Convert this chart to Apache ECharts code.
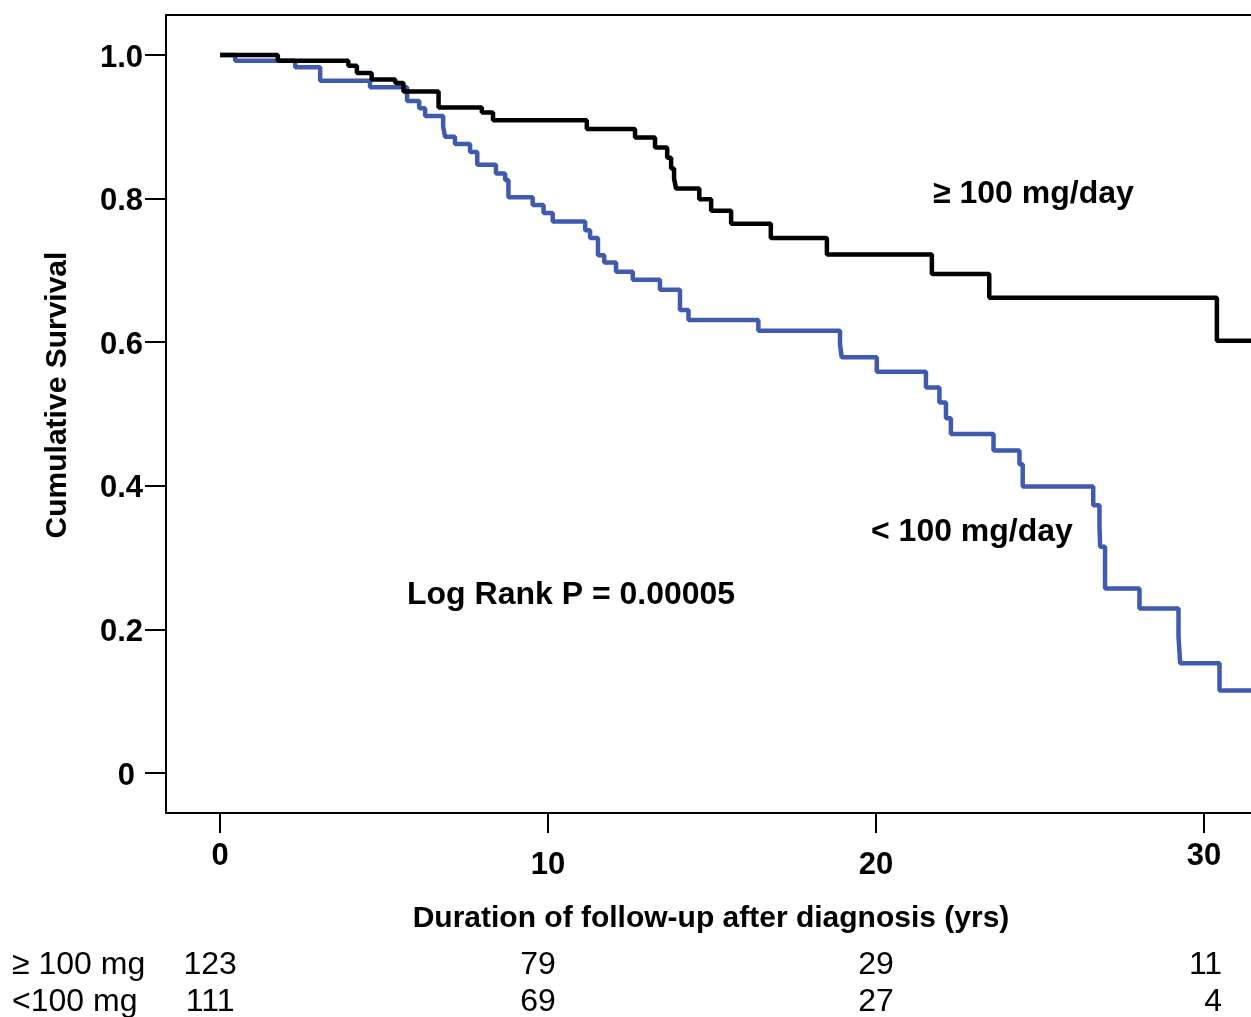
<!DOCTYPE html>
<html>
<head>
<meta charset="utf-8">
<script src="https://cdn.jsdelivr.net/npm/echarts@6/dist/echarts.min.js"></script>
<style>
  html, body { margin: 0; padding: 0; background: #fff; }
  #chart { width: 1251px; height: 1017px; }
</style>
</head>
<body>
<div id="chart"></div>
<script>
// Kaplan-Meier steps (years, cumulative survival)
const highTimes = [0, 1.76, 3.91, 4.17, 4.62, 5.34, 5.59, 6.66, 7.98, 8.32, 11.18, 12.65, 13.26, 13.63, 13.75,
  13.84, 13.90, 14.61, 14.97, 15.58, 16.79, 18.50, 21.70, 23.45, 30.39, 32.05]
const highSurv = [1.0, 0.992, 0.985, 0.975, 0.966, 0.961, 0.949, 0.927, 0.920, 0.909, 0.897, 0.885, 0.871, 0.857, 0.842,
  0.828, 0.814, 0.799, 0.783, 0.765, 0.745, 0.722, 0.695, 0.662, 0.602, 0.602]

const lowTimes = [0, 0.46, 2.29, 3.05, 4.57, 5.70, 6.07, 6.25, 6.80, 6.86, 7.16, 7.62, 7.84, 8.41, 8.69,
  8.79, 9.53, 9.86, 10.14, 11.13, 11.28, 11.52, 11.71, 12.07, 12.58, 13.41, 14.02, 14.28, 16.41, 18.90,
  18.95, 20.02, 21.52, 21.93, 22.13, 22.28, 23.58, 24.37, 24.47, 26.62, 26.81, 26.83, 26.98, 28.03, 29.22,
  29.27, 30.47, 32.05]
const lowSurv = [1.0, 0.992, 0.983, 0.964, 0.955, 0.936, 0.926, 0.915, 0.900, 0.886, 0.876, 0.865, 0.847, 0.835, 0.826,
  0.802, 0.791, 0.780, 0.768, 0.756, 0.745, 0.721, 0.711, 0.698, 0.687, 0.673, 0.645, 0.631, 0.616, 0.597,
  0.579, 0.559, 0.537, 0.516, 0.494, 0.472, 0.449, 0.43, 0.399, 0.373, 0.344, 0.315, 0.257, 0.229, 0.19,
  0.153, 0.115, 0.115]

const xTicks = [0, 10, 20, 30]
const yTicks = [0, 0.2, 0.4, 0.6, 0.8, 1.0]
const yTickLabels = ['0', '0.2', '0.4', '0.6', '0.8', '1.0']

// numbers at risk
const riskTimes = [0, 10, 20, 30]
const riskHigh = [123, 79, 29, 11]
const riskLow = [111, 69, 27, 4]
const riskRowLabels = ['≥ 100 mg', '<100 mg']

const FONT = '"Liberation Sans", Arial, Helvetica, sans-serif'
const X_MIN = -1.65
const X_MAX = 31.43

const chart = echarts.init(document.getElementById('chart'))

const option = {
  animation: false,
  backgroundColor: '#fff',
  grid: {
    left: 166,
    top: 15,
    right: 0,
    bottom: 204,
    show: false
  },
  xAxis: [
    {
      type: 'value',
      min: X_MIN,
      max: X_MAX,
      splitLine: { show: false },
      axisLine: { show: true, onZero: false, lineStyle: { color: '#000', width: 2 } },
      axisTick: { show: true, length: 20, customValues: xTicks, lineStyle: { color: '#000', width: 2 } },
      axisLabel: {
        customValues: xTicks,
        margin: 28,
        color: '#000',
        fontFamily: FONT,
        fontWeight: 'bold',
        fontSize: 31,
        formatter: v => (v === 10 || v === 20) ? '{lo|' + v + '}' : String(v),
        rich: {
          lo: { fontFamily: FONT, fontWeight: 'bold', fontSize: 31, color: '#000', padding: [9, 0, 0, 0] }
        }
      }
    },
    {
      // top frame line only
      type: 'value',
      position: 'top',
      min: X_MIN,
      max: X_MAX,
      splitLine: { show: false },
      axisLine: { show: true, onZero: false, lineStyle: { color: '#000', width: 2 } },
      axisTick: { show: false },
      axisLabel: { show: false }
    }
  ],
  yAxis: {
    type: 'value',
    min: -0.0557,
    max: 1.0557,
    splitLine: { show: false },
    axisLine: { show: true, onZero: false, lineStyle: { color: '#000', width: 2 } },
    axisTick: { show: true, length: 21, customValues: yTicks, lineStyle: { color: '#000', width: 2 } },
    axisLabel: {
      customValues: yTicks,
      margin: 23,
      padding: [6, 0, 0, 0],
      color: '#000',
      fontFamily: FONT,
      fontWeight: 'bold',
      fontSize: 31,
      formatter: v => {
        const i = yTicks.findIndex(t => Math.abs(t - v) < 1e-6)
        const s = i >= 0 ? yTickLabels[i] : ''
        return v === 0 ? '{z|' + s + '}' : s
      },
      rich: {
        z: { fontFamily: FONT, fontWeight: 'bold', fontSize: 31, color: '#000', padding: [0, 8, 0, 0] }
      }
    }
  },
  series: [
    {
      name: '< 100 mg/day',
      type: 'line',
      step: 'end',
      showSymbol: false,
      lineStyle: { color: '#3f5aae', width: 4.5 },
      data: lowTimes.map((t, i) => [t, lowSurv[i]])
    },
    {
      name: '≥ 100 mg/day',
      type: 'line',
      step: 'end',
      showSymbol: false,
      lineStyle: { color: '#000', width: 4.5 },
      data: highTimes.map((t, i) => [t, highSurv[i]])
    }
  ]
}

chart.setOption(option)

const txt = (text, x, y, opts) => ({
  type: 'text',
  x: x,
  y: y,
  rotation: (opts && opts.rotation) || 0,
  style: Object.assign({
    text: text,
    fill: '#000',
    fontFamily: FONT,
    fontSize: 32,
    fontWeight: 'bold',
    align: 'left',
    verticalAlign: 'middle'
  }, opts && opts.style)
})

const graphics = [
  txt('Cumulative Survival', 58, 395, { rotation: Math.PI / 2, style: { align: 'center', fontSize: 30 } }),
  txt('Duration of follow-up after diagnosis (yrs)', 711, 919, { style: { align: 'center', fontSize: 30 } }),
  txt('≥ 100 mg/day', 933, 194, {}),
  txt('< 100 mg/day', 871, 532, {}),
  txt('Log Rank P = 0.00005', 407, 595, {})
]

// number-at-risk table under the axis
const rowY = [965, 1002]
riskRowLabels.forEach((label, r) => {
  graphics.push(txt(label, 12, rowY[r], { style: { fontWeight: 'normal', fontSize: 32 } }))
})
;[riskHigh, riskLow].forEach((row, r) => {
  row.forEach((n, i) => {
    const px = chart.convertToPixel({ xAxisIndex: 0 }, riskTimes[i])
    const last = i === riskTimes.length - 1
    const shift = i < 2 ? -10 : 0
    graphics.push(txt(String(n), last ? px + 18 : px + shift, rowY[r], {
      style: { fontWeight: 'normal', fontSize: 32, align: last ? 'right' : 'center' }
    }))
  })
})

chart.setOption({ graphic: graphics })
</script>
</body>
</html>
